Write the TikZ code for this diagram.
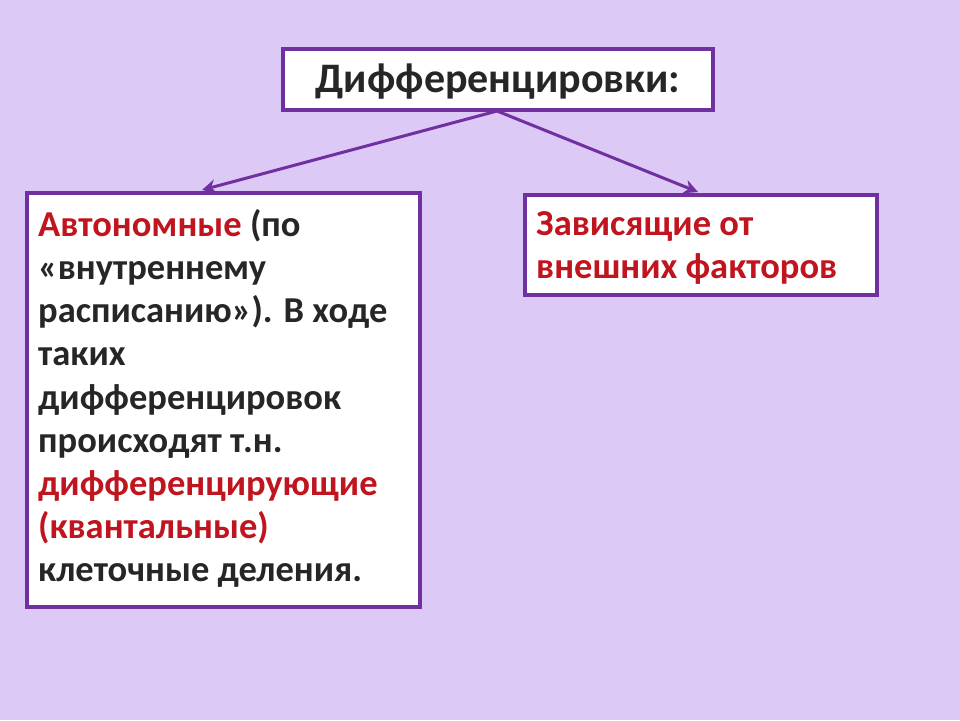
\documentclass[tikz,border=0pt]{standalone}
\usepackage{fontspec}
\setmainfont{Carlito}
\definecolor{bg}{HTML}{DCC9F6}
\definecolor{frame}{HTML}{7030A0}
\definecolor{redt}{HTML}{C0141E}
\definecolor{txt}{HTML}{262626}
\tikzset{box/.style={draw=frame,line width=3.5pt,fill=white},
lbl/.style={font=\bfseries\fontsize{36.5}{43.2}\selectfont,text=txt,align=left,anchor=north west,inner sep=0pt},
arr/.style={draw=frame,line width=3pt,-{Stealth[length=14pt,width=14pt]}}}
\usetikzlibrary{arrows.meta}
\begin{document}
\begin{tikzpicture}[x=1pt,y=-1pt]
\fill[bg] (0,0) rectangle (960,720);
\useasboundingbox (0,0) rectangle (960,720);
\draw[box] (283,49) rectangle (713,110);
\node[font=\bfseries\fontsize{42}{48}\selectfont,text=txt] (top) at (498,82) {Дифференцировки:};
\coordinate (src) at (497,111);
\draw[box] (27,193) rectangle (420,607);
\draw[box] (525,195) rectangle (877,295);
\node[lbl] (left) at (38,209) {\textcolor{redt}{Автономные} (по\\«внутреннему\\расписанию»). В ходе\\таких\\дифференцировок\\происходят т.н.\\\textcolor{redt}{дифференцирующие}\\\textcolor{redt}{(квантальные)}\\клеточные деления.};
\node[lbl,text=redt] (right) at (536,211) {Зависящие от\\внешних факторов};
\coordinate (la) at (202,190);
\coordinate (ra) at (698,192);
\draw[arr] (src) -- (la);
\draw[arr] (src) -- (ra);
\end{tikzpicture}
\end{document}
